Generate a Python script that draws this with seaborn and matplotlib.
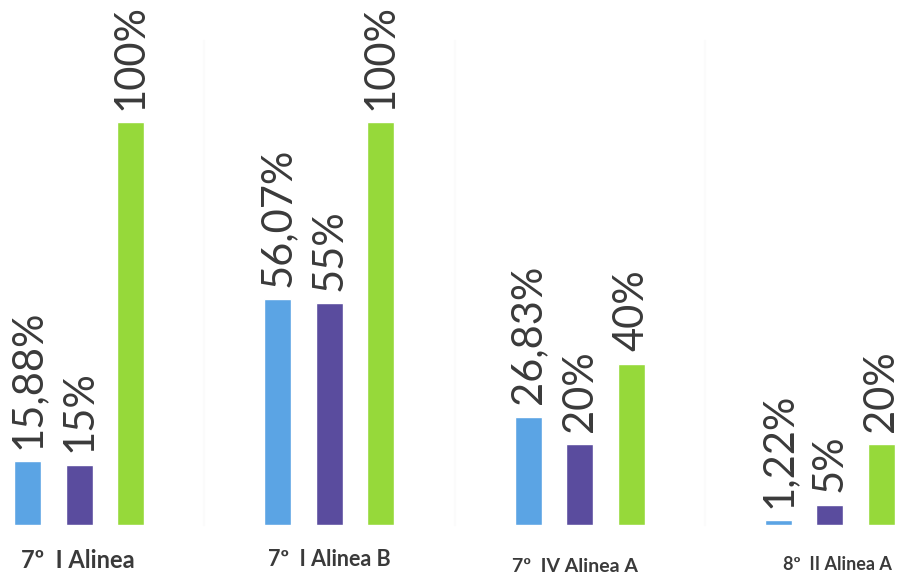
import matplotlib
matplotlib.use("Agg")
import matplotlib.pyplot as plt
import seaborn as sns
import pandas as pd

categories = ["7º  I Alinea", "7º  I Alinea B", "7º  IV Alinea A", "8º  II Alinea A"]
serie_a = [15.88, 56.07, 26.83, 1.22]
serie_b = [15, 55, 20, 5]
serie_c = [100, 100, 40, 20]
label_a = ["15,88%", "56,07%", "26,83%", "1,22%"]
label_b = ["15%", "55%", "20%", "5%"]
label_c = ["100%", "100%", "40%", "20%"]
series_names = ["A", "B", "C"]

rows = []
for name, vals, labs in zip(series_names, [serie_a, serie_b, serie_c], [label_a, label_b, label_c]):
    for cat, v, l in zip(categories, vals, labs):
        rows.append({"cat": cat, "serie": name, "valor": v, "label": l})
df = pd.DataFrame(rows)

sns.set_style("white")
plt.rcParams["font.family"] = ["Lato", "DejaVu Sans"]

colors = ["#5ba4e4", "#5a4c9e", "#96d93a"]

fig = plt.figure(figsize=(9.03, 5.85), dpi=100)
ax = fig.add_axes([0, 60 / 585, 1, 403 / 585])

sns.barplot(data=df, x="cat", y="valor", hue="serie", palette=colors,
            width=0.618, gap=0.476, ax=ax, legend=False, saturation=1)

ax.set_xlim(-0.316, 3.292)
ax.set_ylim(0, 100)

for container, name in zip(ax.containers, series_names):
    labs = df[df["serie"] == name]["label"].tolist()
    ax.bar_label(container, labels=labs, rotation=90, padding=9,
                 fontsize=30, color="#3a3a3a", clip_on=False)

# very faint separators
for xs in [0.5, 1.5, 2.5]:
    ax.axvline(xs, ymin=0.0, ymax=1.2, color="#fbfbfb", lw=1.5, clip_on=False, zorder=0)

ax.set_xticks([])
ax.set_yticks([])
ax.set_xlabel("")
ax.set_ylabel("")
for s in ax.spines.values():
    s.set_visible(False)

cat_sizes = [17, 15.5, 14, 13]
cat_dx = [-1, 0, -5, 8]
cat_dy = [-35, -34, -42, -40]
for i, (cat, fs, dx, dy) in enumerate(zip(categories, cat_sizes, cat_dx, cat_dy)):
    ax.annotate(cat, xy=(i, 0), xycoords=("data", "axes fraction"),
                xytext=(dx, dy), textcoords="offset pixels",
                ha="center", va="center", fontsize=fs, fontweight="bold",
                color="#3a3a3a", annotation_clip=False)

fig.savefig("out.png", dpi=100, facecolor="white")
